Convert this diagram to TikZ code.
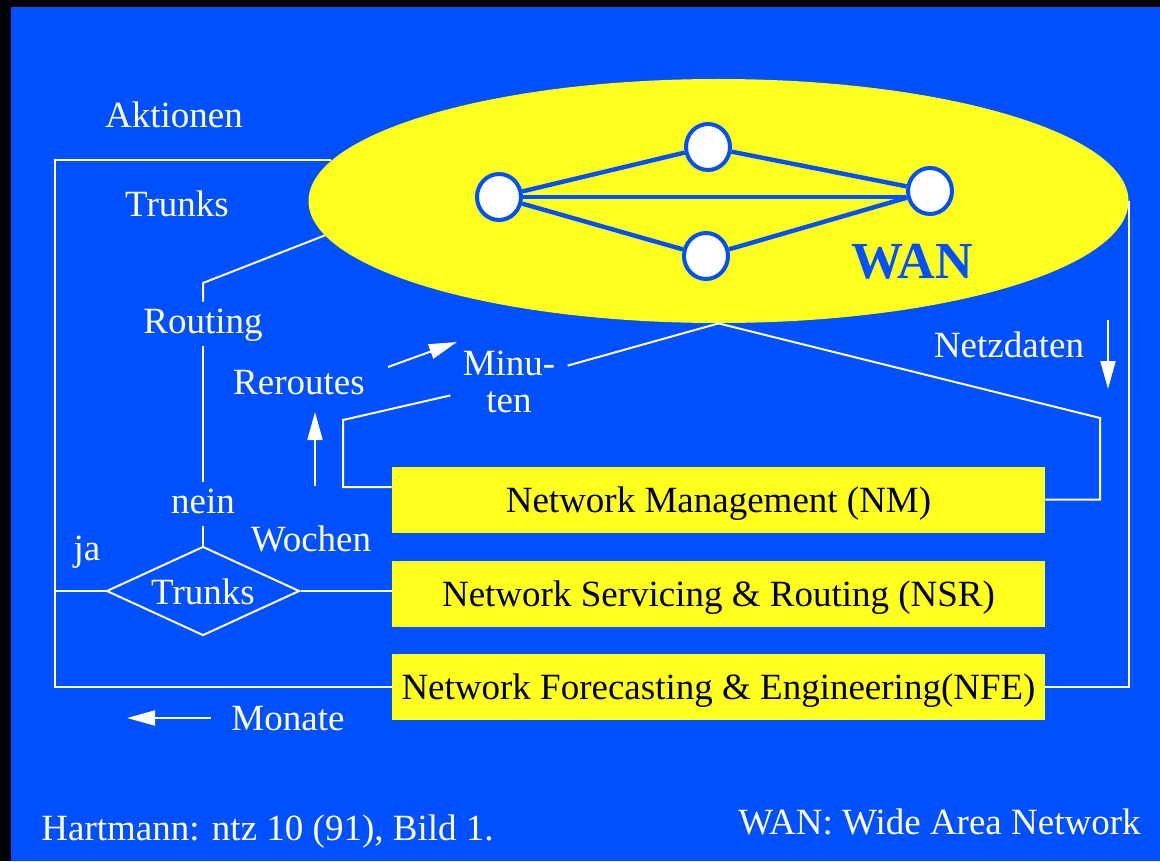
\documentclass[tikz,border=0pt]{standalone}
\usepackage{fontspec}
\setmainfont{Liberation Serif}
\usetikzlibrary{shapes.geometric,arrows.meta}
\definecolor{bgblue}{RGB}{0,80,255}
\definecolor{wanyellow}{RGB}{255,255,30}

\begin{document}
\begin{tikzpicture}[x=0.5pt,y=-0.5pt,
  wire/.style={draw=white,line width=1pt},
  arr/.style={wire,-{Triangle[length=14pt,width=7.5pt]}},
  lbltext/.style={text=white,font=\fontsize{18.5}{18.5}\selectfont},
  lbl/.style={lbltext,inner sep=2.5pt,text height=13pt,text depth=4pt},
  box/.style={fill=wanyellow,minimum width=326.5pt,minimum height=33pt,inner sep=0pt,
    font=\fontsize{18.5}{18.5}\selectfont,text height=12.5pt,text depth=0pt},
  site/.style={ellipse,draw=bgblue,fill=white,line width=2pt,minimum width=22pt,
    minimum height=23pt,inner sep=0pt},
  link/.style={draw=bgblue,line width=2.2pt}
]
% background
\fill[black] (0,0) rectangle (1160,861);
\fill[bgblue] (11,7) rectangle (1160,861);
\useasboundingbox (0,0) rectangle (1160,861);

% the wide area network
\node[ellipse,fill=wanyellow,minimum width=410pt,minimum height=122pt,inner sep=0pt] (ell) at (718.5,201) {};
\node[site] (nl) at (499,197) {};
\node[site] (nt) at (708,147) {};
\node[site] (nb) at (706,256) {};
\node[site] (nr) at (930,191) {};
\draw[link] (nl) -- (nt) -- (nr) -- (nb) -- (nl);
\draw[link] (nl.east) -- (nl.east -| nr.west);
\node[font=\bfseries\fontsize{26}{26}\selectfont,text=bgblue,anchor=base] (wan) at (912,278) {WAN};

% management levels
\node[box] (nm) at (718.5,499.5) {Network Management (NM)};
\node[box] (nsr) at (718.5,593.5) {Network Servicing \& Routing (NSR)};
\node[box] (nfe) at (718.5,686.5) {Network Forecasting \& Engineering(NFE)};

% decision
\node[diamond,aspect=2.2,draw=white,line width=1pt,minimum width=96.5pt,minimum height=44.5pt,
  inner sep=0pt,lbltext,text height=13pt,text depth=0pt] (dia) at (203,591) {Trunks};

% labels
\node[lbl,anchor=base] (akt) at (174,128) {Aktionen};
\node[lbl,anchor=base] (trk) at (177,216) {Trunks};
\node[lbl,anchor=base] (rout) at (203,333) {Routing};
\node[lbl,anchor=base] (rer) at (299,394) {Reroutes};
\node[lbltext,align=center,inner xsep=6pt,inner ysep=2pt] (minu) at (509,382) {Minu-\\ten};
\node[lbl,anchor=base] (netz) at (1009,357) {Netzdaten};
\node[lbl,anchor=base] (nein) at (203,513) {nein};
\node[lbl,anchor=base] (woch) at (311,551) {Wochen};
\node[lbl,anchor=base] (ja) at (87,560) {ja};
\node[lbl,anchor=base] (mon) at (288,730) {Monate};
\node[lbl,anchor=base west,inner sep=0pt] (src) at (41,840) {Hartmann: ntz 10 (91), Bild 1.};
\node[lbl,anchor=base east,inner sep=0pt] (leg) at (1141,834) {WAN: Wide Area Network};

% corner points
\coordinate (lx) at (55,0);
\coordinate (rc) at (203,283);
\coordinate (m1) at (343,420);
\coordinate (nd) at (1100,418);

% control loops
\draw[wire] (ell.174.4) -- (ell.174.4 -| lx) |- (nfe.west);
\draw[wire] (dia.west) -- (dia.west -| lx);
\draw[wire] (dia.east) -- (dia.east -| nsr.west);
\draw[wire] (nfe.east) -| (ell.east);
\draw[wire] (dia.north) -- (nein.south);
\draw[wire] (nein.north) -- (rout.south);
\draw[wire] (rout.north) -- (rc) -- (ell.185.6);
\draw[wire] ([yshift=6.25pt]nm.west) -| (m1) -- (minu);
\draw[wire] (minu) -- (ell.south) -- (nd) |- (nm.east);

% time-scale arrows
\coordinate (r1) at (388,367); \coordinate (r2) at (457,342);
\coordinate (w1) at (315,486); \coordinate (w2) at (315,412);
\coordinate (n1) at (1108,320); \coordinate (n2) at (1108,389);
\coordinate (o1) at (211,718); \coordinate (o2) at (127,718);
\draw[arr] (r1) -- (r2);
\draw[arr] (w1) -- (w2);
\draw[arr] (n1) -- (n2);
\draw[arr] (o1) -- (o2);
\end{tikzpicture}
\end{document}
